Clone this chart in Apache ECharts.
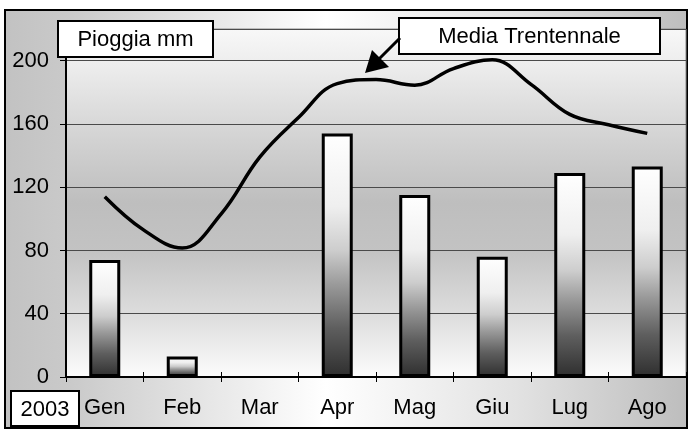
<!DOCTYPE html>
<html>
<head>
<meta charset="utf-8">
<script src="https://cdn.jsdelivr.net/npm/echarts@6/dist/echarts.min.js"></script>
<style>
  html, body { margin: 0; padding: 0; background: #ffffff; }
  #chart { width: 688px; height: 431px; }
</style>
</head>
<body>
<div id="chart"></div>
<script>
// Monthly rainfall 2003 (mm) against the thirty-year average
const mesi = ['Gen', 'Feb', 'Mar', 'Apr', 'Mag', 'Giu', 'Lug', 'Ago'];
const pioggia2003 = [74, 13, 0, 154, 115, 76, 129, 133];

// Thirty-year mean, sampled every half month (position in months from the axis origin)
const mediaPosizioni = [0.5, 1, 1.5, 2, 2.5, 3, 3.5, 4, 4.5, 5, 5.5, 6, 6.5, 7, 7.5];
const mediaTrentennale = [114, 93, 81.5, 103, 139, 164, 185.5, 188, 184.5, 195, 200.5, 185, 166, 159.5, 154];

const yTicks = [0, 40, 80, 120, 160, 200];
const yMax = 220;

const FONT = "'Liberation Sans', Arial, sans-serif";

const chart = echarts.init(document.getElementById('chart'), null, { renderer: 'canvas' });

function labelBox(x, y, w, h, text) {
  return {
    type: 'group',
    z: 100,
    children: [
      {
        type: 'rect',
        shape: { x: x, y: y, width: w, height: h },
        style: { fill: '#ffffff', stroke: '#000000', lineWidth: 2 },
        z: 100
      },
      {
        type: 'text',
        x: x + w / 2,
        y: y + h / 2 + 1,
        style: {
          text: text,
          fill: '#000000',
          font: '22px ' + FONT,
          textAlign: 'center',
          textVerticalAlign: 'middle'
        },
        z: 101
      }
    ]
  };
}

// a month without rain gets no bar outline
const barData = pioggia2003.map(function (v) {
  return v === 0 ? { value: v, itemStyle: { borderWidth: 0 } } : v;
});

const option = {
  animation: false,
  backgroundColor: '#ffffff',
  grid: {
    left: 66,
    right: 2,
    top: 29,
    bottom: 54,
    show: true,
    borderColor: '#8a8a8a',
    borderWidth: 1,
    backgroundColor: {
      type: 'linear', x: 0, y: 0, x2: 0, y2: 1,
      colorStops: [
        { offset: 0, color: '#f8f8f8' },
        { offset: 0.12, color: '#ebebeb' },
        { offset: 0.32, color: '#d2d2d2' },
        { offset: 0.5, color: '#bebebe' },
        { offset: 0.64, color: '#c3c3c3' },
        { offset: 0.84, color: '#e0e0e0' },
        { offset: 1, color: '#fcfcfc' }
      ]
    }
  },
  xAxis: [
    {
      type: 'category',
      data: mesi,
      boundaryGap: true,
      position: 'bottom',
      axisLine: { show: true, lineStyle: { color: '#000000', width: 2 } },
      axisTick: { show: true, inside: false, length: 5, interval: 0, lineStyle: { color: '#000000', width: 1 } },
      axisLabel: { color: '#000000', fontSize: 22, fontFamily: FONT, margin: 20, interval: 0 },
      splitLine: { show: false }
    },
    {
      // month scale for the half-monthly average; only its inner ticks are shown
      type: 'value',
      min: 0,
      max: mesi.length,
      interval: 1,
      position: 'bottom',
      axisLine: { show: false },
      axisTick: { show: true, inside: true, length: 5, lineStyle: { color: '#000000', width: 1 } },
      axisLabel: { show: false },
      splitLine: { show: false }
    }
  ],
  yAxis: {
    type: 'value',
    min: 0,
    max: yMax,
    interval: 40,
    axisLine: { show: true, lineStyle: { color: '#000000', width: 2 } },
    axisTick: { show: true, inside: false, length: 6, lineStyle: { color: '#000000', width: 1 } },
    axisLabel: {
      color: '#000000',
      fontSize: 22,
      fontFamily: FONT,
      margin: 17,
      formatter: function (v) { return yTicks.indexOf(v) >= 0 ? String(v) : ''; }
    },
    splitLine: { show: true, lineStyle: { color: '#4a4a4a', width: 1 } }
  },
  series: [
    {
      name: 'Pioggia mm',
      type: 'bar',
      xAxisIndex: 0,
      data: barData,
      barWidth: 31,
      itemStyle: {
        borderColor: '#000000',
        borderWidth: 3,
        color: {
          type: 'linear', x: 0, y: 0, x2: 0, y2: 1,
          colorStops: [
            { offset: 0, color: '#ffffff' },
            { offset: 0.3, color: '#efefef' },
            { offset: 0.48, color: '#cdcdcd' },
            { offset: 0.62, color: '#9a9a9a' },
            { offset: 0.8, color: '#5e5e5e' },
            { offset: 1, color: '#2e2e2e' }
          ]
        }
      },
      z: 3
    },
    {
      name: 'Media Trentennale',
      type: 'line',
      xAxisIndex: 1,
      data: mediaPosizioni.map(function (p, i) { return [p, mediaTrentennale[i]]; }),
      smooth: 0.4,
      showSymbol: false,
      symbol: 'none',
      lineStyle: { color: '#000000', width: 3.5 },
      z: 4
    }
  ],
  graphic: [
    {
      type: 'rect',
      z: -10,
      silent: true,
      shape: { x: 5, y: 10, width: 682, height: 418 },
      style: {
        fill: {
          type: 'linear', x: 0, y: 0, x2: 1, y2: 0,
          colorStops: [
            { offset: 0, color: '#c2c2c2' },
            { offset: 0.1, color: '#cacaca' },
            { offset: 0.47, color: '#ffffff' },
            { offset: 0.75, color: '#e2e2e2' },
            { offset: 1, color: '#bdbdbd' }
          ]
        },
        stroke: '#000000',
        lineWidth: 2
      }
    },
    labelBox(58, 21, 155, 36, 'Pioggia mm'),
    labelBox(399, 18, 261, 36, 'Media Trentennale'),
    labelBox(11, 391, 68, 35, '2003'),
    {
      type: 'line',
      z: 100,
      shape: { x1: 400, y1: 38, x2: 378, y2: 60 },
      style: { stroke: '#000000', lineWidth: 3 }
    },
    {
      type: 'polygon',
      z: 100,
      shape: { points: [[365, 73], [372, 50], [389, 67]] },
      style: { fill: '#000000' }
    }
  ]
};

chart.setOption(option);
</script>
</body>
</html>
